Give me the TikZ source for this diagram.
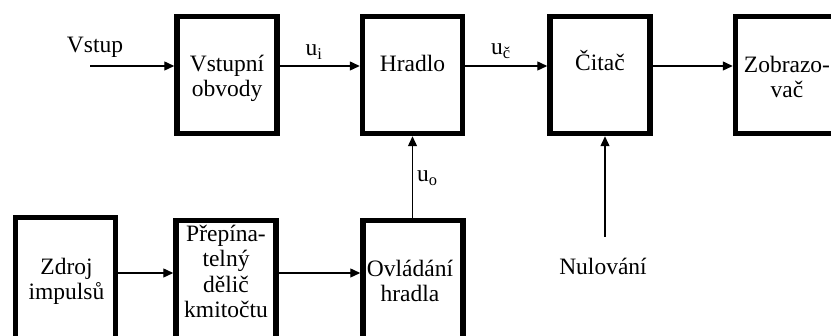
\documentclass[tikz,border=0pt]{standalone}
\usepackage{fontspec}
\setmainfont{Liberation Serif}
\usetikzlibrary{arrows.meta}
\begin{document}
\begin{tikzpicture}[x=1pt,y=-1pt,
  block/.style={draw, line width=5.5pt, minimum width=100pt, minimum height=117pt, inner sep=0pt},
  lowblock/.style={block, minimum height=140pt},
  lbl/.style={font=\fontsize{23.5}{25.5}\selectfont, inner sep=0pt, align=center, anchor=base},
  sig/.style={line width=1.4pt, -{Triangle[length=10pt,width=9pt]}}]
\clip (0,0) rectangle (831,336);
\fill[white] (0,0) rectangle (831,336);

% blocks of the upper row
\node[block] (vst)  at (227,75)   {};
\node[block] (hrad) at (412.5,75) {};
\node[block] (cit)  at (600,75)   {};
\node[block] (zob)  at (785.5,75) {};
% blocks of the lower row (they run past the lower edge)
\node[lowblock] (zdr) at (65.5,287.5) {};
\node[lowblock] (prep) at (226,290.5) {};
\node[lowblock] (ovl) at (413,290.5) {};

% block texts (placed by the baseline of their last line)
\node[lbl] (tvst)  at (227,97)    {Vstupní\\obvody};
\node[lbl] (thrad) at (412.5,72)  {Hradlo};
\node[lbl] (tcit)  at (600,71)    {Čitač};
\node[lbl] (tzob)  at (787,98)    {Zobrazo-\\vač};
\node[lbl] (tzdr)  at (66.5,300)  {Zdroj\\impulsů};
\node[lbl] (tprep) at (226,318)   {Přepína-\\telný\\dělič\\kmitočtu};
\node[lbl] (tovl)  at (410,302)   {Ovládání\\hradla};

% free labels
\node[lbl] (vstup) at (95,53) {Vstup};
\node[lbl] (ui) at (314,56) {u\textsubscript{i}};
\node[lbl] (uc) at (501,55) {u\textsubscript{č}};
\node[lbl, anchor=base west] (uo) at (417,182) {u\textsubscript{o}};
\node[lbl] (nul) at (603,275) {Nulování};

% signal paths
\coordinate (row1) at (0,66);
\coordinate (row2) at (0,273);
\coordinate (in) at (90,66);
\coordinate (nulstart) at (605,237);
\draw[sig] (in) -- (vst.west |- row1);
\draw[sig] (vst.east |- row1) -- (hrad.west |- row1);
\draw[sig] (hrad.east |- row1) -- (cit.west |- row1);
\draw[sig] (cit.east |- row1) -- (zob.west |- row1);
\draw[sig] (zdr.east |- row2) -- (prep.west |- row2);
\draw[sig] (prep.east |- row2) -- (ovl.west |- row2);
\draw[sig] (hrad.south |- ovl.north) -- (hrad.south);
\draw[sig] (nulstart) -- (nulstart |- cit.south);
\end{tikzpicture}
\end{document}
